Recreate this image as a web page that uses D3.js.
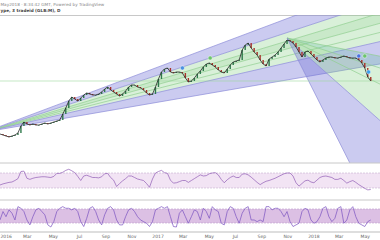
<!DOCTYPE html>
<html lang="en">
<head>
  <meta charset="UTF-8"/>
  <title>Gann fans</title>
  <script src="https://d3js.org/d3.v7.min.js"></script>
  <style>
    body { margin:0; background:#fff; font-family:"DejaVu Sans",Arial,sans-serif; }
    svg { display:block; }
  </style>
</head>
<body>
  <svg width="380" height="240"></svg>
  <script>
    // weekly closes, Dec 28 2015 .. May 14 2018
    const closes = [34.5,34,33.5,33,33.5,34,35,38.5,40.5,39.5,39,39.5,39,39,39.5,40,39.5,40,40.5,41,
      41.5,44.5,47.5,51,53,52,51,52.5,54,55,54.5,54,54,54.5,55.5,57,58,56.5,55.5,54.5,
      53.5,54.5,56,58,59,59,58,57.5,56.5,55,54,54.5,58,62,65.5,67,67.5,65.5,65,65.5,
      65.5,65,62.5,60.5,61,62.5,64.5,66,68,69.5,70,69,68,66.5,65.5,65,67,69,70.5,71,
      71.5,76.5,79,80,77.5,75.5,74,71.5,69.5,68.5,72,73,74,75.5,77.5,79.5,81.5,81,80,78,
      75.5,73,75.5,76,74.5,73,71.5,70.5,71.5,72.5,73,73,72.5,72.5,73,73.5,73,72.5,72.5,72.5,
      71.5,70,67.5,63,61];
    const rsi = [38,41,43,45,46,50,55,74,75,56,53,56,58,59,60,60,59,58,61,69,
      69,72,77,80,76,71,61,50,62,64,61,58,58,57,60,68,69,58,51,34,
      42,49,55,62,62,58,54,52,50,42,32,54,70,74,77,71,69,51,43,44,
      47,50,50,45,50,55,60,65,62,63,68,70,71,65,53,44,52,58,62,58,
      58,67,68,65,59,52,45,39,44,48,50,53,56,60,64,68,70,70,62,44,
      35,42,49,51,46,44,51,58,61,62,60,58,53,53,56,50,43,47,50,45,
      39,34,29,25,26];
    const stoch = [33,69,47,76,62,33,90,83,69,33,12,47,76,83,69,55,12,3,26,69,
      83,90,83,83,76,83,69,26,5,40,83,90,69,33,12,55,83,90,76,33,
      12,12,47,76,83,69,47,33,26,19,5,26,76,83,90,83,90,47,5,3,
      62,76,47,19,47,76,69,33,83,69,40,90,76,69,19,12,69,90,83,47,
      19,62,83,90,33,33,26,33,26,90,90,76,83,83,69,47,69,26,5,12,
      19,69,83,76,33,19,26,47,83,90,47,26,40,83,90,19,33,76,90,47,
      19,12,5,26,33];
    const monthTicks = ['2016-01-01','2016-03-01','2016-05-01','2016-07-01','2016-09-01','2016-11-01',
      '2017-01-01','2017-03-01','2017-05-01','2017-07-01','2017-09-01','2017-11-01',
      '2018-01-01','2018-03-01','2018-05-01'];
    // fans: origin [date, price] and rays through [date, price]
    const fan1Origin = ['2015-11-23', 35.5];
    const fan1Rays = [['2018-05-21',108.5],['2018-05-21',99.5],['2018-05-21',94],['2018-05-21',89],
      ['2018-05-21',84.5],['2018-05-21',80],['2018-05-21',69]];
    const fan1Fills = ['p','g','g2','g','g','p'];
    const fan2Origin = ['2017-10-30', 82.5];
    const fan2Rays = [['2018-05-21',74],['2018-05-21',68.5],['2018-05-21',61],['2018-05-21',44],['2018-03-26',20]];
    const fan2Fills = ['t','g','g','p'];
    const hLevel = 61;
    const markers = [['2017-02-27',67.5,'#4a90e2'],['2017-05-03',72.5,'#6cc46c'],
      ['2018-04-16',73.5,'#4a6fe2'],['2018-04-30',73.5,'#6cc46c'],['2018-05-09',65.5,'#3aa0ee']];

    const W = 380, H = 240,
          topY = 15, mainBot = 163, rsiTop = 163, rsiBot = 200, axisY = 232;
    const parse = d3.timeParse('%Y-%m-%d');
    const start = parse('2015-12-28'), end = parse('2018-05-21');
    const dates = closes.map((c,i)=>d3.timeDay.offset(start, 7*i));

    const svg = d3.select('svg');
    const x  = d3.scaleTime().domain([start, end]).range([0, 373.75]);
    const yP = d3.scaleLinear().domain([20, 94]).range([mainBot, topY]);
    const yR = d3.scaleLinear().domain([0, 100]).range([199.25, 161.75]);
    const yS = d3.scaleLinear().domain([0, 100]).range([227.7, 204.3]);

    const fillCol = { p:'rgba(112,112,214,0.36)', g:'rgba(130,205,130,0.30)',
                      g2:'rgba(120,200,120,0.40)', t:'rgba(110,190,170,0.30)' };
    const lineCol = { p:'#8c8cd8', g:'#8fcf8f' };

    const defs = svg.append('defs');
    defs.append('clipPath').attr('id','mainClip')
      .append('rect').attr('x',0).attr('y',topY).attr('width',W).attr('height',mainBot-topY);

    // header
    svg.append('text').attr('x',0.5).attr('y',5.5).attr('font-size',4.2).attr('fill','#888')
      .text('May2018 · 8:34:42 GMT, Powered by TradingView');
    svg.append('text').attr('x',0.5).attr('y',12).attr('font-size',4.2).attr('font-weight','bold').attr('fill','#444')
      .text('ype, 3 tradeid (GLB:M), D');
    svg.append('line').attr('x1',0).attr('x2',W).attr('y1',topY+0.5).attr('y2',topY+0.5)
      .attr('stroke','#c8c8c8').attr('stroke-width',1);

    const main = svg.append('g').attr('clip-path','url(#mainClip)');

    function ray(o, p){
      const x0 = x(parse(o[0])), y0 = yP(o[1]), x1 = x(parse(p[0])), y1 = yP(p[1]);
      const len = Math.hypot(x1-x0, y1-y0), k = 2000/len;
      return [x0 + (x1-x0)*k, y0 + (y1-y0)*k];
    }
    function drawFan(origin, rays, fills){
      const o = [x(parse(origin[0])), yP(origin[1])];
      const ends = rays.map(r=>ray(origin, r));
      fills.forEach((f,i)=>{
        main.append('path')
          .attr('d', d3.line()([o, ends[i], ends[i+1]]) + 'Z')
          .attr('fill', fillCol[f]);
      });
      ends.forEach((e,i)=>{
        const outer = fills[i]==='p' || fills[i-1]==='p';
        main.append('line').attr('x1',o[0]).attr('y1',o[1]).attr('x2',e[0]).attr('y2',e[1])
          .attr('stroke', outer ? lineCol.p : lineCol.g).attr('stroke-width',0.7);
      });
    }
    drawFan(fan1Origin, fan1Rays, fan1Fills);
    drawFan(fan2Origin, fan2Rays, fan2Fills);

    main.append('line').attr('x1',0).attr('x2',W).attr('y1',yP(hLevel)).attr('y2',yP(hLevel))
      .attr('stroke','#9ed89e').attr('stroke-width',0.6);

    // price: candle bodies plus close line
    main.selectAll('rect.c').data(closes.slice(1)).join('rect')
      .attr('x',(d,i)=>x(dates[i+1])-0.7).attr('width',1.4)
      .attr('y',(d,i)=>yP(Math.max(d, closes[i])))
      .attr('height',(d,i)=>Math.max(0.6, Math.abs(yP(d)-yP(closes[i]))))
      .attr('fill',(d,i)=> d>=closes[i] ? '#2f7a4c' : '#a8322a');
    main.append('path').datum(closes)
      .attr('d', d3.line().x((d,i)=>x(dates[i])).y(d=>yP(d)))
      .attr('fill','none').attr('stroke','#262626').attr('stroke-width',0.8);

    main.selectAll('circle.m').data(markers).join('circle')
      .attr('cx',d=>x(parse(d[0]))).attr('cy',d=>yP(d[1])).attr('r',2.1)
      .attr('fill',d=>d[2]).attr('stroke','#fff').attr('stroke-width',0.4);

    // RSI panel
    svg.append('line').attr('x1',0).attr('x2',W).attr('y1',rsiTop).attr('y2',rsiTop)
      .attr('stroke','#c8c8c8');
    svg.append('rect').attr('x',0).attr('width',W).attr('y',yR(70)).attr('height',yR(30)-yR(70))
      .attr('fill','#f2e4f4');
    [70,30].forEach(v=>svg.append('line').attr('x1',0).attr('x2',W).attr('y1',yR(v)).attr('y2',yR(v))
      .attr('stroke','#b9a3c6').attr('stroke-width',0.5).attr('stroke-dasharray','2,1'));
    svg.append('path').datum(rsi)
      .attr('d', d3.line().x((d,i)=>x(dates[i])).y(d=>yR(d)))
      .attr('fill','none').attr('stroke','#8f5bb5').attr('stroke-width',0.7);

    // Stoch panel
    svg.append('line').attr('x1',0).attr('x2',W).attr('y1',rsiBot).attr('y2',rsiBot)
      .attr('stroke','#c8c8c8');
    svg.append('rect').attr('x',0).attr('width',W).attr('y',yS(80)).attr('height',yS(20)-yS(80))
      .attr('fill','#dcc0e4');
    [80,20].forEach(v=>svg.append('line').attr('x1',0).attr('x2',W).attr('y1',yS(v)).attr('y2',yS(v))
      .attr('stroke','#b493c4').attr('stroke-width',0.5).attr('stroke-dasharray','2,1'));
    svg.append('path').datum(stoch)
      .attr('d', d3.line().x((d,i)=>x(dates[i])).y(d=>yS(d)))
      .attr('fill','none').attr('stroke','#7a52c0').attr('stroke-width',0.7);

    // time axis
    svg.append('line').attr('x1',0).attr('x2',W).attr('y1',axisY).attr('y2',axisY)
      .attr('stroke','#bdbdbd');
    const fmt = d => d.getMonth()===0 ? d3.timeFormat('%Y')(d) : d3.timeFormat('%b')(d);
    svg.selectAll('text.tick').data(monthTicks.map(parse)).join('text')
      .attr('x',(d,i)=> i===0 ? 0.5 : x(d)).attr('y',238)
      .attr('text-anchor',(d,i)=> i===0 ? 'start' : 'middle')
      .attr('font-size',4.5).attr('fill','#666').text(fmt);
  </script>
</body>
</html>
